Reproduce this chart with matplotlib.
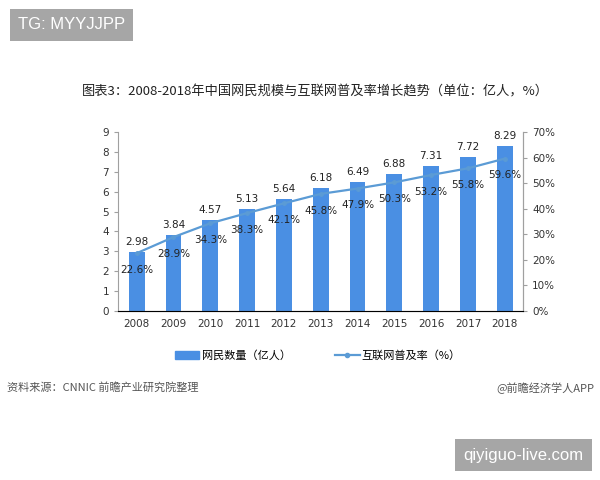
import matplotlib
matplotlib.use("Agg")
import matplotlib.pyplot as plt
from matplotlib.patches import Patch
from matplotlib.lines import Line2D

plt.rcParams['font.family'] = ['Noto Sans CJK SC', 'DejaVu Sans']

years = ['2008', '2009', '2010', '2011', '2012', '2013', '2014', '2015', '2016', '2017', '2018']
users = [2.98, 3.84, 4.57, 5.13, 5.64, 6.18, 6.49, 6.88, 7.31, 7.72, 8.29]
rate = [22.6, 28.9, 34.3, 38.3, 42.1, 45.8, 47.9, 50.3, 53.2, 55.8, 59.6]
left_ticks = list(range(0, 10))
right_ticks = list(range(0, 80, 10))

bar_color = '#4a8fe3'
line_color = '#5b9bd5'
axis_color = '#a0a0a0'
num_font = ['DejaVu Sans']

fig = plt.figure(figsize=(6, 4.8), dpi=100)
ax = fig.add_axes([0.197, 0.352, 0.675, 0.373])
x = list(range(len(years)))
ax.bar(x, users, width=0.43, color=bar_color, zorder=2)
ax.set_xlim(-0.5, 10.5)
ax.set_ylim(0, 9)
ax.set_yticks(left_ticks)
ax.set_xticks(x)
ax.set_xticklabels(years)
ax.spines['top'].set_visible(False)
for s in ['left', 'bottom', 'right']:
    ax.spines[s].set_color(axis_color)
ax.tick_params(axis='both', colors='#333333', labelsize=7.5, length=3, color=axis_color)
ax.tick_params(axis='x', length=0, pad=6)
for lab in ax.get_xticklabels() + ax.get_yticklabels():
    lab.set_family(num_font)
for xi, v in zip(x, users):
    ax.text(xi, v + 0.25, f'{v:.2f}', ha='center', va='bottom', fontsize=7.5, color='#222222',
            family=num_font)

ax2 = ax.twinx()
ax2.set_ylim(0, 70)
ax2.set_yticks(right_ticks)
ax2.set_yticklabels([f'{t}%' for t in right_ticks])
ax2.plot(x, rate, color=line_color, lw=1.6, marker='o', markersize=2.5, zorder=3)
for s in ['top', 'left']:
    ax2.spines[s].set_visible(False)
ax2.spines['right'].set_color(axis_color)
ax2.tick_params(axis='y', colors='#333333', labelsize=7.5, length=3, color=axis_color)
for lab in ax2.get_yticklabels():
    lab.set_family(num_font)
for xi, v in zip(x, rate):
    ax2.text(xi, v - 4.6, f'{v:.1f}%', ha='center', va='top', fontsize=7.5, color='#222222',
             family=num_font)

fig.text(0.525, 0.808, '图表3：2008-2018年中国网民规模与互联网普及率增长趋势（单位：亿人，%）',
         ha='center', va='center', fontsize=9.5, color='#222222')

handles = [Patch(color=bar_color), Line2D([0], [0], color=line_color, lw=1.6, marker='o', markersize=3)]
fig.legend(handles, ['网民数量（亿人）', '互联网普及率（%）'], loc='center', bbox_to_anchor=(0.53, 0.26),
           ncol=2, frameon=False, fontsize=8, handlelength=2.2, handletextpad=0.2, columnspacing=4)

fig.text(0.012, 0.192, '资料来源：CNNIC 前瞻产业研究院整理', ha='left', va='center', fontsize=8,
         color='#555555', style='italic')
fig.text(0.99, 0.192, '@前瞻经济学人APP', ha='right', va='center', fontsize=8, color='#555555')

fig.text(0.03, 0.948, 'TG: MYYJJPP', ha='left', va='center', fontsize=12, color='white',
         family=['Liberation Sans'],
         bbox=dict(boxstyle='square,pad=0.5', fc='#a6a6a6', ec='none'))
fig.text(0.973, 0.052, 'qiyiguo-live.com', ha='right', va='center', fontsize=12, color='white',
         family=['Liberation Sans'],
         bbox=dict(boxstyle='square,pad=0.5', fc='#a6a6a6', ec='none'))

fig.savefig('out.png', dpi=100, facecolor='white')
